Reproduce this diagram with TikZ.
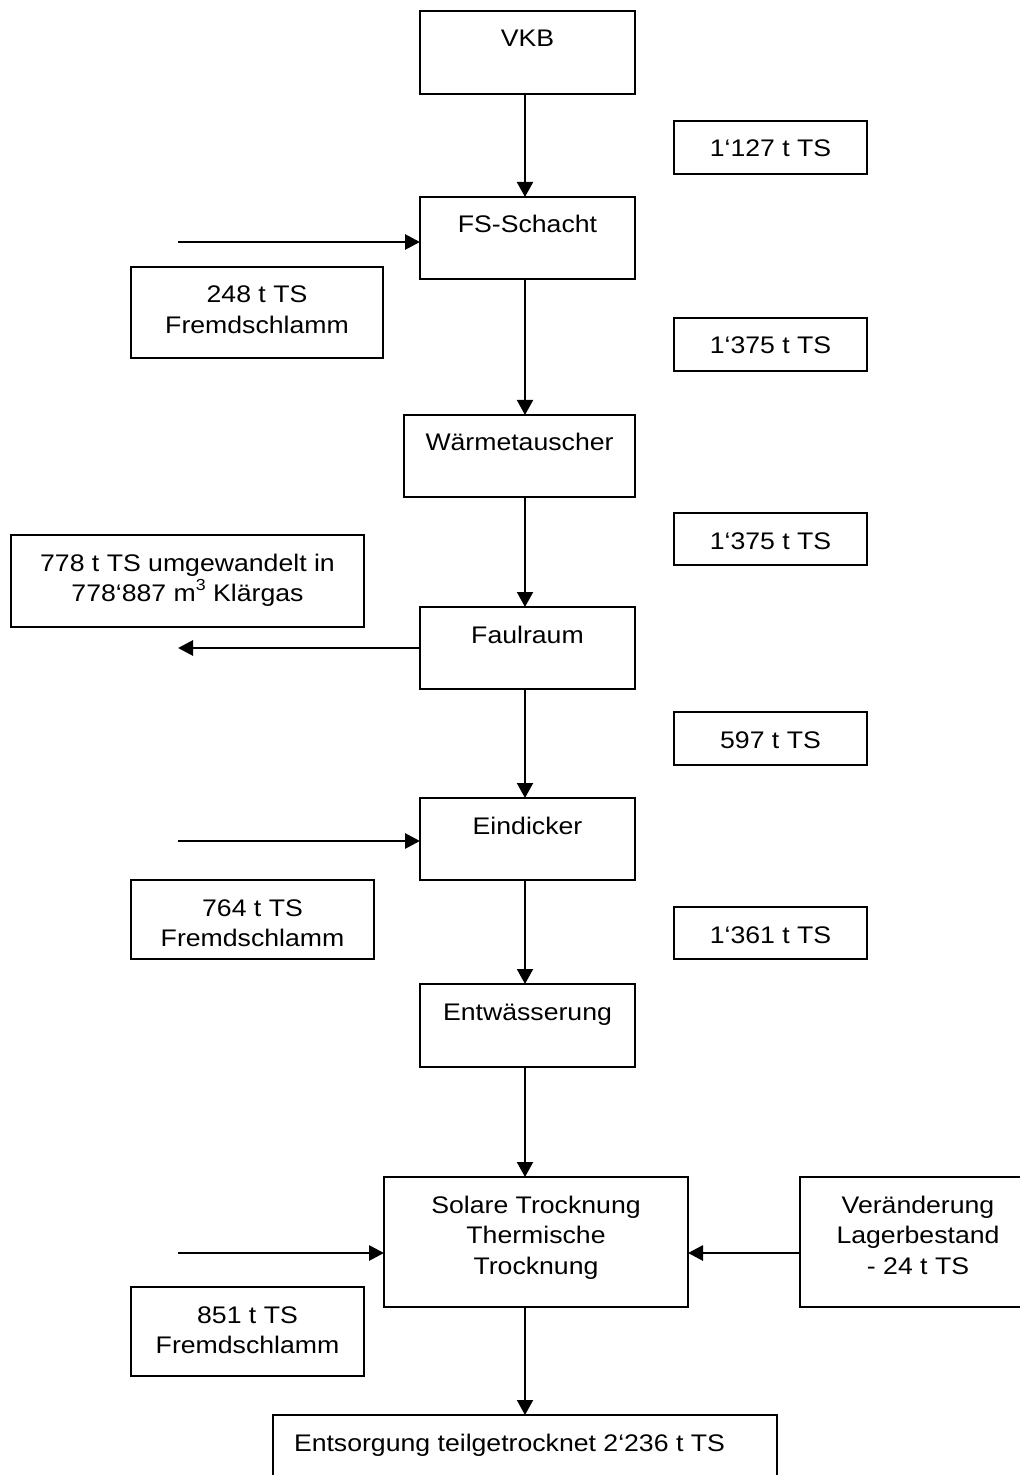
\documentclass[tikz,border=0pt]{standalone}
\usepackage{fontspec}
\setmainfont{Liberation Sans}[FakeStretch=1.11]
\usetikzlibrary{arrows.meta}
\tikzset{
  box/.style={draw, line width=1pt, inner sep=0pt, outer sep=0pt},
  flow/.style={line width=1pt, -{Triangle[length=7.5pt,width=8pt]}},
  side/.style={line width=1.4pt, -{Triangle[length=7.5pt,width=7.5pt]}},
}
\newcommand\flowbox[6]{%
  \node[box] (#1) at ({(#2+#4)/2},{(#3+#5)/2})
    {\parbox[t][\dimexpr(#5pt-#3pt)/2\relax][t]{\dimexpr(#4pt-#2pt)/2\relax}%
      {\fontsize{12pt}{15.25pt}\selectfont\centering\rule{0pt}{18pt}#6\par}};}
\newcommand\myexp[1]{\raisebox{5.5pt}{\fontsize{8pt}{8pt}\selectfont #1}}
\begin{document}
\begin{tikzpicture}[x=0.5pt,y=-0.5pt]
\useasboundingbox (0,0) rectangle (1019,1475);
\flowbox{vkb}{420}{11}{635}{94}{VKB}
\flowbox{fs}{420}{197}{635}{279}{FS-Schacht}
\flowbox{m1127}{674}{121}{867}{174}{1‘127 t TS}
\flowbox{fs248}{131}{267}{383}{358}{248 t TS\\Fremdschlamm}
\flowbox{m1375a}{674}{318}{867}{371}{1‘375 t TS}
\flowbox{waerme}{404}{415}{635}{497}{Wärmetauscher}
\flowbox{m1375b}{674}{513}{867}{565}{1‘375 t TS}
\flowbox{gas}{11}{535}{364}{627}{778 t TS umgewandelt in\\778‘887 m\myexp{3} Klärgas}
\flowbox{faul}{420}{607}{635}{689}{Faulraum}
\flowbox{m597}{674}{712}{867}{765}{597 t TS}
\flowbox{eind}{420}{798}{635}{880}{Eindicker}
\flowbox{fs764}{131}{880}{374}{959}{764 t TS\\Fremdschlamm}
\flowbox{m1361}{674}{907}{867}{959}{1‘361 t TS}
\flowbox{entw}{420}{984}{635}{1067}{Entwässerung}
\flowbox{sol}{384}{1177}{688}{1307}{Solare Trocknung\\Thermische\\Trocknung}
\flowbox{ver}{800}{1177}{1036}{1307}{Veränderung\\Lagerbestand\\- 24 t TS}
\flowbox{fs851}{131}{1287}{364}{1376}{851 t TS\\Fremdschlamm}
\flowbox{ents}{273}{1415}{777}{1495}{\raggedright\hspace*{10.5pt}Entsorgung teilgetrocknet 2‘236 t TS}
\coordinate (ax) at (525,0);
\coordinate (l1) at (178,242);
\coordinate (l2) at (178,648);
\coordinate (l3) at (178,841);
\coordinate (l4) at (178,1253);
\draw[flow] (vkb.south -| ax) -- (fs.north -| ax);
\draw[flow] (fs.south -| ax) -- (waerme.north -| ax);
\draw[flow] (waerme.south -| ax) -- (faul.north -| ax);
\draw[flow] (faul.south -| ax) -- (eind.north -| ax);
\draw[flow] (eind.south -| ax) -- (entw.north -| ax);
\draw[flow] (entw.south -| ax) -- (sol.north -| ax);
\draw[flow] (sol.south -| ax) -- (ents.north -| ax);
\draw[side] (l1) -- (l1 -| fs.west);
\draw[side] (l2 -| faul.west) -- (l2);
\draw[side] (l3) -- (l3 -| eind.west);
\draw[side] (l4) -- (l4 -| sol.west);
\draw[side] (l4 -| ver.west) -- (l4 -| sol.east);
\end{tikzpicture}
\end{document}
